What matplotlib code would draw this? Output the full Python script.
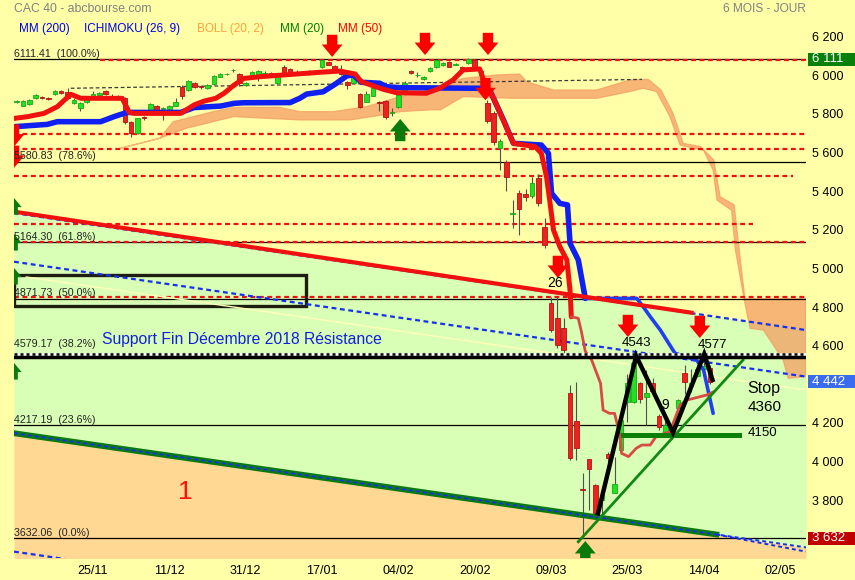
import numpy as np
import matplotlib
matplotlib.use('Agg')
import matplotlib.pyplot as plt
from matplotlib.patches import Rectangle

plt.rcParams['font.family'] = ['Liberation Sans', 'DejaVu Sans']

# trading-day index, 0 = 25/11
day = np.arange(-12, 98)
tick_pos = [0, 12, 24, 36, 48, 60, 72, 84, 96, 108]
tick_labels = ['25/11', '11/12', '31/12', '17/01', '04/02', '20/02', '09/03', '25/03', '14/04', '02/05']

opens = [5890, 5872, 5879, 5910, 5916, 5912, 5931, 5948, 5941, 5884,
         5862, 5893, 5924, 5927, 5948, 5913, 5912, 5913, 5789, 5729,
         5815, 5850, 5872, 5855, 5855, 5872, 5970, 5953, 5991, 5976,
         5965, 5982, 6022, 6034, 6054, 6035, 5980, 6022, 6013, 6035,
         6043, 5991, 6074, 6062, 6045, 6042, 6051, 6045, 6070, 6096,
         6075, 6057, 5996, 5990, 5931, 5893, 5924, 5893, 5898, 5834,
         5867, 5944, 6053, 6030, 6010, 6053, 6070, 6082, 6100, 6085,
         6070, 6091, 6110, 6050, 5884, 5832, 5651, 5582, 5310, 5418,
         5413, 5404, 5496, 5245, 4848, 4771, 4719, 4382, 4241, 3888,
         4041, 3908, 3830, 4070, 3868, 4089, 4339, 4339, 4434, 4365,
         4438, 4265, 4180, 4200, 4305, 4490, 4420, 4470, 4510, 4512]
closes = [5894, 5896, 5901, 5927, 5912, 5907, 5948, 5938, 5913, 5901,
          5884, 5910, 5932, 5939, 5931, 5924, 5908, 5786, 5729, 5806,
          5806, 5879, 5850, 5862, 5872, 5893, 5924, 6000, 5970, 5967,
          5979, 6027, 6034, 6036, 6056, 5990, 5988, 6048, 6053, 6040,
          6022, 6036, 6048, 6043, 6040, 6044, 6036, 6047, 6108, 6084,
          6060, 6036, 5979, 6024, 5867, 5931, 5962, 5884, 5815, 5838,
          5927, 5991, 6043, 6032, 6022, 6065, 6108, 6094, 6074, 6088,
          6057, 6112, 6062, 6029, 5794, 5686, 5689, 5501, 5314, 5335,
          5401, 5470, 5366, 5150, 4710, 4633, 4607, 4046, 4100, 3881,
          3991, 3761, 3856, 4048, 3914, 4244, 4434, 4538, 4351, 4382,
          4396, 4207, 4221, 4154, 4346, 4442, 4438, 4507, 4523, 4442]
highs = [5902, 5900, 5906, 5933, 5920, 5915, 5955, 5952, 5962, 5910,
         5890, 5915, 5950, 5945, 5952, 5930, 5925, 5918, 5795, 5810,
         5820, 5885, 5876, 5866, 5876, 5910, 5980, 6005, 5995, 5980,
         5985, 6032, 6040, 6042, 6062, 6040, 5992, 6052, 6058, 6050,
         6048, 6040, 6080, 6066, 6055, 6052, 6058, 6058, 6112, 6100,
         6080, 6080, 6000, 6030, 5935, 5950, 5968, 5898, 5902, 5862,
         5932, 6000, 6058, 6045, 6028, 6070, 6112, 6100, 6104, 6094,
         6076, 6117, 6115, 6058, 5900, 5845, 5700, 5590, 5383, 5436,
         5440, 5504, 5520, 5289, 4883, 4883, 4771, 4425, 4443, 3968,
         4045, 3912, 3882, 4080, 4055, 4250, 4485, 4545, 4440, 4503,
         4460, 4275, 4240, 4215, 4355, 4530, 4510, 4530, 4577, 4530]
lows = [5884, 5868, 5875, 5905, 5905, 5900, 5925, 5930, 5908, 5878,
        5845, 5888, 5920, 5920, 5925, 5908, 5900, 5775, 5710, 5725,
        5800, 5845, 5845, 5800, 5850, 5868, 5905, 5950, 5965, 5960,
        5960, 5978, 6018, 6030, 6046, 5975, 5975, 6018, 6000, 6028,
        6018, 5985, 6044, 6040, 6030, 6030, 6030, 6040, 6066, 6080,
        6055, 6032, 5960, 5985, 5862, 5890, 5920, 5845, 5805, 5820,
        5862, 5940, 6038, 6020, 6005, 6048, 6066, 6078, 6070, 6080,
        6050, 6088, 6055, 6000, 5780, 5670, 5540, 5430, 5237, 5202,
        5380, 5395, 5355, 5133, 4700, 4615, 4590, 4037, 4037, 3632,
        3778, 3754, 3744, 3990, 3865, 4085, 4236, 4330, 4330, 4218,
        4380, 4195, 4170, 4145, 4300, 4380, 4390, 4465, 4480, 4430]

# ichimoku lines (vertices)
kijun_x = [-12.4, -7.2, -5.6, 1.2, 3.3, 4.4, 5.4, 13.8, 15.9, 20.1, 22.2, 23.7, 31.0, 32.5,
           33.6, 36.2, 38.3, 39.9, 40.9, 42.2, 45.1, 46.1, 48.3, 60.8, 62.4, 64.5, 66.1, 70.5,
           71.6, 72.1, 73.4, 74.6, 75.0, 76.3, 77.4, 85.5, 86.5, 87.6, 89.2, 91.5, 94.9, 96.0, 97.5]
kijun_v = [5763, 5775, 5789, 5789, 5815, 5827, 5837, 5837, 5862, 5870, 5884, 5887, 5888, 5910,
           5932, 5944, 5988, 6026, 6031, 5993, 5988, 5970, 5965, 5962, 5950, 5800, 5677, 5668,
           5625, 5418, 5366, 5358, 5159, 5073, 4874, 4874, 4831, 4780, 4710, 4590, 4555, 4503, 4279]
tenkan_x = [-12.4, -10.3, -7.7, -5.6, -3.5, -1.9, 4.6, 5.7, 6.5, 13.8, 15.9, 17.5, 19.3, 20.6,
            22.2, 23.7, 26.3, 36.2, 38.8, 41.2, 42.2, 45.6, 47.7, 52.4, 54.5, 56.6, 58.2, 60.8,
            61.6, 63.0, 66.1, 69.5, 70.5, 71.3, 71.8, 72.4, 73.4, 74.5, 75.0, 75.2, 76.3, 76.8,
            77.4, 78.4, 79.8, 80.2, 81.2, 82.0, 82.9, 83.1, 84.2, 85.4, 86.3, 87.6, 88.6, 90.7,
            91.5, 92.3, 93.4, 96.5, 97.6]
tenkan_v = [5806, 5815, 5832, 5867, 5931, 5910, 5910, 5837, 5832, 5832, 5876, 5896, 5910, 5936,
            5979, 6013, 6022, 6046, 6051, 6036, 5996, 5957, 5939, 5936, 5962, 6005, 6057, 6062,
            5988, 5910, 5677, 5660, 5625, 5504, 5383, 5228, 5142, 5073, 4917, 4779, 4771, 4700,
            4600, 4555, 4434, 4296, 4279, 4279, 4158, 4072, 4055, 4098, 4115, 4115, 4162, 4184,
            4253, 4322, 4348, 4374, 4391]

cloud_top_x = [3.7, 10.5, 12.6, 18.9, 22.1, 29.4, 32.5, 37.8, 43.0, 48.3, 53.0, 58.2, 63.5, 67.1,
               68.2, 72.4, 79.2, 84.4, 87.3, 89.3, 91.2, 92.8, 95.5, 97.6, 98.6, 100.8, 101.6,
               102.5, 112.1]
cloud_top_v = [5646, 5703, 5789, 5841, 5863, 5863, 5841, 5841, 5867, 5919, 5953, 6013, 6031, 6036,
               5996, 5953, 5953, 6005, 6008, 5953, 5832, 5677, 5660, 5591, 5401, 5358, 5125,
               4872, 4872]
cloud_bot_x = [3.7, 10.5, 14.7, 22.1, 32.5, 40.4, 45.6, 48.3, 52.9, 54.6, 58.2, 66.1, 79.2, 84.4,
               86.5, 88.6, 90.7, 92.3, 96.0, 97.5, 98.1, 100.4, 101.0, 102.3, 103.3, 105.4, 108.5,
               109.3, 112.1]
cloud_bot_v = [5646, 5703, 5755, 5815, 5798, 5798, 5824, 5841, 5850, 5850, 5919, 5910, 5910, 5945,
               5962, 5945, 5815, 5668, 5640, 5539, 5383, 5330, 5125, 4883, 4719, 4710, 4555,
               4460, 4469]

# fibonacci retracement
fib_v = [6111.41, 5580.83, 5164.30, 4871.73, 4579.17, 4217.19, 3632.06]
fib_pct = ['100.0%', '78.6%', '61.8%', '50.0%', '38.2%', '23.6%', '0.0%']

# red dashed horizontal levels: value, start, end
red_lvl_v = [6108, 5724, 5645, 5506, 5259, 5168, 4880]
red_lvl_x0 = [1.1, -12.4, -12.4, -12.4, -12.4, -12.4, -12.4]
red_lvl_x1 = [112.1, 112.1, 112.1, 110.1, 103.8, 112.1, 112.1]

# channel lines (x0, v0, x1, v1)
chan_top = [-12.42, 5316, 112.1, 4710]
chan_red = [-12.42, 5323, 94.1, 4800]
chan_mid = [-12.42, 5064, 112.1, 4469]
chan_bot = [-12.42, 4176, 112.1, 3585]
chan_bot_green_end = 98.0
chan_low = [-12.42, 3563, -3.0, 3518]
pale_line = [-10.5, 4985, 112.1, 4400]
dash_black = [-3.5, 5962, 86.3, 6008]

box = [-12.42, 4835, 33.5, 4995]  # x0, v0, x1, v1

zig_x = [79.4, 85.4, 91.2, 96.1, 97.4]
zig_v = [3761, 4576, 4179, 4586, 4452]
up_trend_x = [76.3, 102.2]
up_trend_v = [3614, 4555]
sup_x = [83.4, 101.5]
sup_v = [4167, 4167]

sell_x = [37.6, 52.2, 62.1, 61.7, 73.1, 84.1, 95.4]
sell_v = [6124, 6134, 6134, 5900, 4980, 4674, 4669]
buy_x = [48.3, 77.4]
buy_v = [5803, 3618]
edge_buy_v = [5394, 5208, 5032, 4540]
edge_sell_v = [5660, 5550]

right_ticks = [6200, 6000, 5800, 5600, 5400, 5200, 5000, 4800, 4600, 4200, 4000, 3800]
last_price = 4442

YEL = '#FFFFA8'
GRN = '#D9FFB7'
ORG = '#FFD993'
ARROW = 'simple,head_length=0.6,head_width=1.0,tail_width=0.5'

fig = plt.figure(figsize=(8.55, 5.8), dpi=100, facecolor=YEL)
ax = fig.add_axes([14 / 855, 22 / 580, 792 / 855, 558 / 580])
ax.set_facecolor(YEL)
ax.set_xlim(-12.42, 112.1)
ax.set_ylim(3530, 6419)
for s in ax.spines.values():
    s.set_visible(False)

# zones
ax.fill_between([chan_bot[0], chan_bot[2]], [chan_bot[1], chan_bot[3]], 3400, color=ORG, lw=0, zorder=0.2)
ax.fill_between([chan_top[0], chan_top[2]], [chan_bot[1], chan_bot[3]], [chan_top[1], chan_top[3]],
                color=GRN, lw=0, zorder=0.3)

# cloud
ax.fill(cloud_top_x + cloud_bot_x[::-1], cloud_top_v + cloud_bot_v[::-1],
        fc='#F49A62', ec='#F49A62', alpha=0.72, lw=0.9, zorder=0.5)

# fib lines
for v, p in zip(fib_v, fib_pct):
    if p == '38.2%':
        ax.axhline(v - 7, color='black', lw=3.2, zorder=3.6)
        ax.axhline(v + 8, color='white', lw=1.8, zorder=3.6)
        ax.axhline(v + 8, color='black', lw=1.8, dashes=(1.2, 1.2), zorder=3.7)
        off = 4.5
    else:
        ax.axhline(v, color='black', lw=0.9, zorder=1)
        off = 0.5
    ax.annotate(f'{v:.2f}  ({p})', (-12.35, v), xytext=(0, off), textcoords='offset points',
                fontsize=7.7, color='#222222', va='bottom', ha='left', zorder=6)

for v, a, b in zip(red_lvl_v, red_lvl_x0, red_lvl_x1):
    ax.plot([a, b], [v, v], color='#EE1111', lw=1.6, dashes=(2.2, 1.6), zorder=1.1)

ax.plot([dash_black[0], dash_black[2]], [dash_black[1], dash_black[3]], color='#3a3a3a', lw=0.9,
        dashes=(3, 2), zorder=1.6)

ax.add_patch(Rectangle((box[0], box[1]), box[2] - box[0], box[3] - box[1], fill=False,
                       ec='#1e1e10', lw=2.4, zorder=1.2))

ax.plot([pale_line[0], pale_line[2]], [pale_line[1], pale_line[3]], color='#FFFFB8', lw=1, zorder=1.3)
for ln in (chan_top, chan_mid, chan_low):
    ax.plot([ln[0], ln[2]], [ln[1], ln[3]], color='#1530EE', lw=1.6, dashes=(2.2, 1.6), zorder=1.5)

# candles
o = np.array(opens)
c = np.array(closes)
up = c >= o
ax.vlines(day, lows, highs, color='#505050', lw=0.8, zorder=2)
ax.bar(day[up], (c - o)[up], bottom=o[up], width=0.72, color='#22E022', edgecolor='#18A818',
       lw=0.6, zorder=2.1)
ax.bar(day[~up], (o - c)[~up], bottom=c[~up], width=0.72, color='#EE2020', edgecolor='#B01414',
       lw=0.6, zorder=2.1)

# ichimoku
kx = np.array(kijun_x)
kv = np.array(kijun_v)
ax.plot(kx[kx <= 77.4], kv[kx <= 77.4], color='#1020F0', lw=4, solid_capstyle='round', zorder=3)
ax.plot(kx[kx >= 77.4], kv[kx >= 77.4], color='#2040F0', lw=2.6, solid_capstyle='round', zorder=3)
tx = np.array(tenkan_x)
tv = np.array(tenkan_v)
ax.plot(tx[tx <= 75.2], tv[tx <= 75.2], color='#F01010', lw=3.6, solid_capstyle='round', zorder=3.1)
ax.plot(tx[tx >= 75.2], tv[tx >= 75.2], color='#D84A44', lw=2.0, solid_capstyle='round', zorder=3.1)

# channel red line and bottom green line
ax.plot([chan_red[0], chan_red[2]], [chan_red[1], chan_red[3]], color='#F01010', lw=3, zorder=3.2)
gb_end = np.interp(chan_bot_green_end, [chan_bot[0], chan_bot[2]], [chan_bot[1], chan_bot[3]])
ax.plot([chan_bot[0], chan_bot_green_end], [chan_bot[1], gb_end], color='#0A7A0A', lw=4.2, zorder=3.2)
ax.plot([chan_bot[0], chan_bot[2]], [chan_bot[1], chan_bot[3]], color='#1530EE', lw=1.4,
        dashes=(2.0, 1.6), zorder=3.3)
ax.plot([chan_bot_green_end, chan_bot[2]], [gb_end, chan_bot[3] - 22], color='#1530EE', lw=1.4,
        dashes=(2.0, 1.6), zorder=3.3)

# trendlines, support, zigzag
ax.plot(up_trend_x, up_trend_v, color='#118811', lw=2, zorder=3.5)
ax.plot(sup_x, sup_v, color='#0A800A', lw=3.6, zorder=3.5)
ax.plot(zig_x, zig_v, color='black', lw=3.2, solid_joinstyle='miter', zorder=4)


# arrows
def arrow(x, v, dy, color, scale=15):
    a = ax.annotate('', xy=(x, v), xytext=(0, dy), textcoords='offset points',
                    arrowprops=dict(arrowstyle=ARROW, mutation_scale=scale, fc=color, ec='none',
                                    shrinkA=0, shrinkB=0),
                    zorder=5, annotation_clip=False)
    a.arrow_patch.set_clip_on(True)
    a.arrow_patch.set_clip_box(ax.bbox)


for x, v in zip(sell_x, sell_v):
    arrow(x, v, 16, '#FF0000')
for x, v in zip(buy_x, buy_v):
    arrow(x, v, -16, '#0A7A0A')
for v in edge_buy_v:
    arrow(-12.42, v, -12, '#0A7A0A', 11)
for v in edge_sell_v:
    arrow(-12.42, v, 16, '#FF0000')

# annotations
ax.text(72.6, 4954, '26', fontsize=10, ha='center', va='center', zorder=6)
ax.text(85.4, 4642, '4543', fontsize=9.5, ha='center', va='center', zorder=6)
ax.text(97.4, 4633, '4577', fontsize=9.5, ha='center', va='center', zorder=6)
ax.text(89.9, 4322, '9', fontsize=10, ha='center', va='center', zorder=3.8)
ax.text(102.9, 4405, 'Stop', fontsize=11.5, ha='left', va='center', zorder=6)
ax.text(102.9, 4312, '4360', fontsize=11, ha='left', va='center', zorder=6)
ax.text(102.9, 4177, '4150', fontsize=9.5, ha='left', va='center', zorder=6)
ax.text(1.4, 4659, 'Support Fin Décembre 2018 Résistance', fontsize=11.3, color='#1020E0',
        ha='left', va='center', zorder=6)
ax.text(14.5, 3872, '1', fontsize=19, color='#FF1010', ha='center', va='center', zorder=6)

# x axis
ax.set_xticks(tick_pos, tick_labels)
ax.tick_params(axis='x', length=0, pad=5, labelsize=9)
ax.set_yticks([])

# right price scale
yt = ax.get_yaxis_transform()
for v in right_ticks:
    ax.annotate(f'{v:,}'.replace(',', ' '), (1.0, v), xycoords=yt, xytext=(4, 3),
                textcoords='offset points', fontsize=9, va='center', ha='left', annotation_clip=False)

for v, col in [(fib_v[0], '#0A800A'), (last_price, '#3A6CF0'), (fib_v[-1], '#C00000')]:
    ax.add_patch(Rectangle((1.0025, v - 34), 0.07, 68, transform=yt, fc=col, ec='none',
                           clip_on=False, zorder=6))
    ax.annotate(f'{round(v):,}'.replace(',', ' '), (1.0025, v), xycoords=yt, xytext=(3, 0),
                textcoords='offset points', fontsize=9.5, color='white', va='center', ha='left',
                annotation_clip=False, zorder=7)

# header texts
fig.text(14 / 855, 1 - 9 / 580, 'CAC 40 - abcbourse.com', color='#808080', fontsize=8.8, va='center')
fig.text(806 / 855, 1 - 9 / 580, '6 MOIS - JOUR', color='#808080', fontsize=8.6, va='center', ha='right')
legend = [('MM (200)', '#0000F0', 19), ('ICHIMOKU (26, 9)', '#0000F0', 84),
          ('BOLL (20, 2)', '#FFA040', 197), ('MM (20)', '#008000', 280), ('MM (50)', '#FF0000', 338)]
for txt, col, xp in legend:
    fig.text(xp / 855, 1 - 29 / 580, txt, color=col, fontsize=8.5, va='center')

fig.savefig('out.png', dpi=100, facecolor=YEL)
